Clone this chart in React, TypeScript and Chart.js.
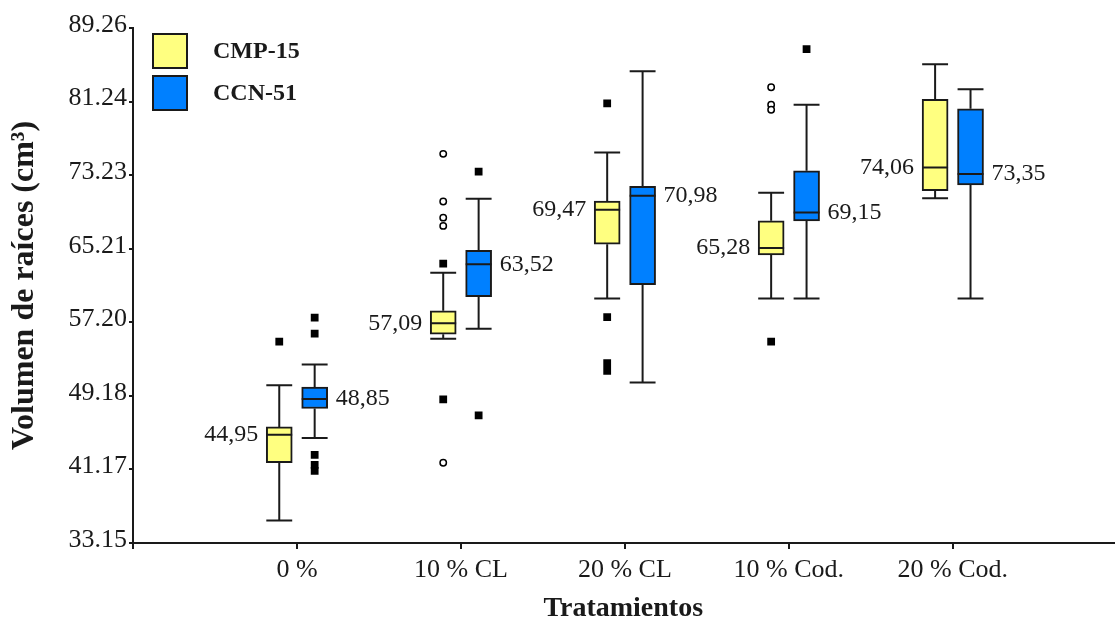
import React, { useEffect, useRef } from 'react';
import { Chart, registerables } from 'chart.js';

Chart.register(...registerables);

// ---------- data ----------
const categories = ['0 %', '10 % CL', '20 % CL', '10 % Cod.', '20 % Cod.'];
const seriesNames = ['CMP-15', 'CCN-51'];
const yTickLabels = ['33.15', '41.17', '49.18', '57.20', '65.21', '73.23', '81.24', '89.26'];

// CMP-15
const cmpLow = [35.6, 55.4, 59.8, 59.8, 70.7];
const cmpQ1 = [41.9, 55.9, 65.7, 64.55, 71.55];
const cmpMedian = [44.95, 57.09, 69.47, 65.28, 74.06];
const cmpQ3 = [45.8, 58.45, 70.4, 68.25, 81.5];
const cmpHigh = [50.35, 62.6, 75.7, 71.3, 85.3];
const cmpExtremes = [[55.1], [63.6, 48.8], [81.05, 57.75, 52.75, 51.9], [55.1], []];
const cmpOutliers = [[], [75.55, 70.35, 68.6, 67.7, 41.9], [], [82.8, 80.9, 80.35], []];

// CCN-51
const ccnLow = [44.6, 56.5, 50.65, 59.8, 59.8];
const ccnQ1 = [47.8, 60.0, 61.3, 68.25, 72.15];
const ccnMedian = [48.85, 63.52, 70.98, 69.15, 73.35];
const ccnQ3 = [50.15, 65.05, 72.0, 73.7, 80.45];
const ccnHigh = [52.6, 70.65, 84.55, 80.9, 82.6];
const ccnExtremes = [[57.7, 55.95, 42.75, 41.65, 41.0], [73.6, 47.05], [], [86.95], []];
const ccnOutliers = [[], [], [], [], []];

// ---------- styling / layout constants ----------
const SERIF = "'Liberation Serif', 'Times New Roman', serif";
const FILLS = ['#FFFF80', '#0080FF'];
const INK = '#1a1a1a';
const SERIES_OFFSET = [-0.108, 0.108];
const HALF = 0.079; // half box width in category units
const BOX_PX = 26;

type Stats = { low: number[]; q1: number[]; med: number[]; q3: number[]; high: number[]; ext: number[][]; out: number[][] };
const series: Stats[] = [
  { low: cmpLow, q1: cmpQ1, med: cmpMedian, q3: cmpQ3, high: cmpHigh, ext: cmpExtremes, out: cmpOutliers },
  { low: ccnLow, q1: ccnQ1, med: ccnMedian, q3: ccnQ3, high: ccnHigh, ext: ccnExtremes, out: ccnOutliers },
];

const gap = (x: number) => ({ x, y: null as any });

function buildDatasets() {
  const ds: any[] = [];
  series.forEach((s, si) => {
    const off = SERIES_OFFSET[si];
    const whisk: any[] = [];
    const meds: any[] = [];
    const boxes: any[] = [];
    const ext: any[] = [];
    const out: any[] = [];
    categories.forEach((_, i) => {
      const x = i + 1 + off;
      whisk.push({ x, y: s.low[i] }, { x, y: s.q1[i] }, gap(x));
      whisk.push({ x, y: s.q3[i] }, { x, y: s.high[i] }, gap(x));
      whisk.push({ x: x - HALF, y: s.low[i] }, { x: x + HALF, y: s.low[i] }, gap(x));
      whisk.push({ x: x - HALF, y: s.high[i] }, { x: x + HALF, y: s.high[i] }, gap(x));
      meds.push({ x: x - HALF, y: s.med[i] }, { x: x + HALF, y: s.med[i] }, gap(x));
      boxes.push({ x, y: [s.q1[i], s.q3[i]] });
      s.ext[i].forEach((v) => ext.push({ x, y: v }));
      s.out[i].forEach((v) => out.push({ x, y: v }));
    });
    ds.push({
      type: 'scatter', label: seriesNames[si] + ' whiskers', data: whisk, showLine: true, spanGaps: false,
      borderColor: INK, borderWidth: 2, pointRadius: 0, order: 4,
    });
    ds.push({
      type: 'bar', label: seriesNames[si], data: boxes, backgroundColor: FILLS[si], borderColor: INK,
      borderWidth: 2, borderSkipped: false, grouped: false, barThickness: BOX_PX, order: 3,
    });
    ds.push({
      type: 'scatter', label: seriesNames[si] + ' median', data: meds, showLine: true, spanGaps: false,
      borderColor: INK, borderWidth: 2, pointRadius: 0, order: 2,
    });
    ds.push({
      type: 'scatter', label: seriesNames[si] + ' extremes', data: ext, pointStyle: 'rect', pointRadius: 5.5,
      backgroundColor: '#000', borderColor: '#000', borderWidth: 0, order: 1,
    });
    ds.push({
      type: 'scatter', label: seriesNames[si] + ' outliers', data: out, pointStyle: 'circle', pointRadius: 3.2,
      backgroundColor: '#fff', borderColor: '#000', borderWidth: 1.5, order: 1,
    });
  });
  return ds;
}

const medianLabelPlugin = {
  id: 'medianLabels',
  afterDatasetsDraw(chart: any) {
    const { ctx, scales } = chart;
    const xs = scales.x;
    const ys = scales.y;
    ctx.save();
    ctx.font = `24px ${SERIF}`;
    ctx.fillStyle = INK;
    ctx.textBaseline = 'middle';
    series.forEach((s, si) => {
      s.med.forEach((m, i) => {
        const cx = xs.getPixelForValue(i + 1 + SERIES_OFFSET[si]);
        const cy = ys.getPixelForValue(m);
        const txt = m.toFixed(2).replace('.', ',');
        if (si === 0) {
          ctx.textAlign = 'right';
          ctx.fillText(txt, cx - BOX_PX / 2 - 8, cy);
        } else {
          ctx.textAlign = 'left';
          ctx.fillText(txt, cx + BOX_PX / 2 + 8, cy);
        }
      });
    });
    ctx.restore();
  },
};

const legendPlugin = {
  id: 'boxLegend',
  afterDraw(chart: any) {
    const { ctx, chartArea } = chart;
    ctx.save();
    seriesNames.forEach((name, i) => {
      const x = chartArea.left + 20;
      const y = chartArea.top + 6 + i * 42;
      ctx.fillStyle = FILLS[i];
      ctx.fillRect(x, y, 34, 34);
      ctx.lineWidth = 2;
      ctx.strokeStyle = INK;
      ctx.strokeRect(x, y, 34, 34);
      ctx.fillStyle = INK;
      ctx.font = `bold 24px ${SERIF}`;
      ctx.textAlign = 'left';
      ctx.textBaseline = 'middle';
      ctx.fillText(name, x + 60, y + 18);
    });
    ctx.restore();
  },
};

export default function App() {
  const ref = useRef<HTMLCanvasElement>(null);
  useEffect(() => {
    const yVals = yTickLabels.map((t) => parseFloat(t));
    const chart = new Chart(ref.current as HTMLCanvasElement, {
      type: 'bar',
      data: { datasets: buildDatasets() },
      options: {
        responsive: false,
        animation: false,
        devicePixelRatio: 1,
        layout: { padding: { top: 28, right: -5, bottom: 0, left: 0 } },
        plugins: { legend: { display: false }, tooltip: { enabled: false } },
        scales: {
          x: {
            type: 'linear',
            min: 0,
            max: 5.98,
            offset: false,
            grid: { offset: false, drawOnChartArea: false, drawTicks: true, tickLength: 6, color: INK, lineWidth: 2 },
            border: { display: true, color: INK, width: 2 },
            afterBuildTicks: (scale: any) => {
              scale.ticks = [0, 1, 2, 3, 4, 5].map((v) => ({ value: v }));
            },
            afterFit: (scale: any) => { scale.height = 83; },
            ticks: {
              autoSkip: false,
              maxRotation: 0,
              padding: 6,
              color: INK,
              font: { family: SERIF, size: 26 },
              callback: (v: any) => (v >= 1 ? categories[Math.round(v) - 1] : ''),
            },
            title: {
              display: true,
              text: 'Tratamientos',
              color: INK,
              font: { family: SERIF, size: 28, weight: 'bold' },
              padding: { top: 0, bottom: 0 },
            },
          },
          y: {
            type: 'linear',
            min: yVals[0],
            max: yVals[yVals.length - 1],
            beginAtZero: false,
            grid: { drawOnChartArea: false, drawTicks: true, tickLength: 4, color: INK, lineWidth: 2 },
            border: { display: true, color: INK, width: 2 },
            afterBuildTicks: (scale: any) => {
              scale.ticks = yVals.map((v) => ({ value: v }));
            },
            afterFit: (scale: any) => { scale.width = 133; },
            ticks: {
              padding: 2,
              labelOffset: -3,
              color: INK,
              font: { family: SERIF, size: 26 },
              callback: (_v: any, idx: number) => yTickLabels[idx],
            },
            title: {
              display: true,
              text: 'Volumen de raíces (cm³)',
              color: INK,
              font: { family: SERIF, size: 32, weight: 'bold' },
              padding: { top: 6, bottom: 0 },
            },
          },
        },
      } as any,
      plugins: [medianLabelPlugin, legendPlugin],
    });
    return () => chart.destroy();
  }, []);
  return (
    <div style={{ position: 'fixed', left: 0, top: 0, width: 1119, height: 626, background: '#fff' }}>
      <canvas ref={ref} width={1119} height={626} style={{ display: 'block', width: 1119, height: 626 }} />
    </div>
  );
}
